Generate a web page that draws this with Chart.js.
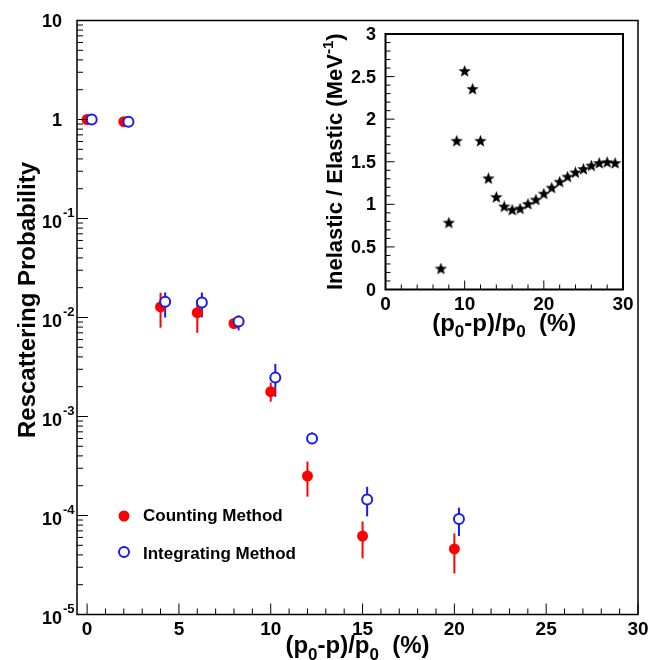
<!DOCTYPE html>
<html>
<head>
<meta charset="utf-8">
<script src="https://cdn.jsdelivr.net/npm/chart.js@4.4.1/dist/chart.umd.min.js"></script>
<style>
html, body { margin: 0; padding: 0; background: #fff; }
#wrap { position: relative; width: 649px; height: 660px; }
#mainChart { position: absolute; left: 0; top: 0; }
#insetChart { position: absolute; left: 310px; top: 22px; }
</style>
</head>
<body>
<div id="wrap">
    <canvas id="mainChart" width="649" height="660"></canvas>
    <canvas id="insetChart" width="326" height="318"></canvas>
</div>
<script>
// ========== 数据 ==========
// Counting Method (红色实心点)
const countX  = [0, 2, 4, 6, 8, 10, 12, 15, 20];
const countY  = [1.0, 0.95, 0.0128, 0.0112, 0.0087, 0.00178, 2.5e-4, 6.2e-5, 4.6e-5];
const countLo = [null, null, 0.0079, 0.0070, 0.0080, 0.00141, 1.55e-4, 3.7e-5, 2.6e-5];
const countHi = [null, null, 0.0178, 0.0150, 0.0095, 0.0022, 3.5e-4, 8.7e-5, 6.6e-5];

// Integrating Method (蓝色空心圈)
const integX  = [0.25, 2.25, 4.25, 6.25, 8.25, 10.25, 12.25, 15.25, 20.25];
const integY  = [1.0, 0.95, 0.0144, 0.0142, 0.0091, 0.00247, 6.0e-4, 1.45e-4, 9.2e-5];
const integLo = [null, null, 0.0100, 0.0100, 0.0074, 0.00158, 5.5e-4, 9.8e-5, 6.2e-5];
const integHi = [null, null, 0.0179, 0.0179, 0.0105, 0.0034, 6.9e-4, 1.95e-4, 1.2e-4];

// 插图: Inelastic / Elastic
const ratioX = [7, 8, 9, 10, 11, 12, 13, 14, 15, 16, 17, 18, 19, 20, 21, 22, 23, 24, 25, 26, 27, 28, 29];
const ratioY = [0.24, 0.78, 1.74, 2.56, 2.35, 1.74, 1.30, 1.08, 0.97, 0.93, 0.945, 1.0, 1.05,
                1.12, 1.19, 1.26, 1.32, 1.37, 1.41, 1.45, 1.48, 1.49, 1.48];

// 刻度
const mainXTicks  = [0, 5, 10, 15, 20, 25, 30];
const mainYExps   = [1, 0, -1, -2, -3, -4, -5];
const insetXTicks = [0, 10, 20, 30];
const insetYTicks = [0, 0.5, 1, 1.5, 2, 2.5, 3];

const FONT = '"Liberation Sans", Arial, Helvetica, sans-serif';
const RED = '#ff0000';
const BLUE = '#1a1aee';

function setFont(ctx, size) {
    ctx.font = 'bold ' + size + 'px ' + FONT;
}

// 带上下标的文字: parts = [[text, 'sub'|'sup'|null], ...]
function richText(ctx, parts, x, y, size, align) {
    let total = 0;
    const widths = parts.map(p => {
        setFont(ctx, p[1] ? Math.round(size * 0.7) : size);
        const w = ctx.measureText(p[0]).width;
        total += w;
        return w;
    });
    let cx = align === 'center' ? x - total / 2 : (align === 'right' ? x - total : x);
    ctx.textAlign = 'left';
    ctx.textBaseline = 'alphabetic';
    parts.forEach((p, i) => {
        setFont(ctx, p[1] ? Math.round(size * 0.7) : size);
        let dy = 0;
        if (p[1] === 'sub') dy = size * 0.28;
        if (p[1] === 'sup') dy = -size * 0.42;
        ctx.fillText(p[0], cx, y + dy);
        cx += widths[i];
    });
}

// ========== 误差棒 ==========
const errorBarPlugin = {
    id: 'errorBars',
    beforeDatasetsDraw(chart) {
        const ctx = chart.ctx;
        const xs = chart.scales.x, ys = chart.scales.y;
        const sets = [[countX, countLo, countHi, RED], [integX, integLo, integHi, BLUE]];
        ctx.save();
        ctx.lineWidth = 2;
        sets.forEach(s => {
            ctx.strokeStyle = s[3];
            s[0].forEach((xv, i) => {
                if (s[1][i] == null) return;
                const px = xs.getPixelForValue(xv);
                ctx.beginPath();
                ctx.moveTo(px, ys.getPixelForValue(s[1][i]));
                ctx.lineTo(px, ys.getPixelForValue(s[2][i]));
                ctx.stroke();
            });
        });
        ctx.restore();
    }
};

// ========== 主图坐标轴 ==========
const mainAxesPlugin = {
    id: 'mainAxes',
    afterDraw(chart) {
        const ctx = chart.ctx;
        const a = chart.chartArea;
        const xs = chart.scales.x, ys = chart.scales.y;
        ctx.save();
        ctx.strokeStyle = '#000';
        ctx.fillStyle = '#000';
        ctx.lineWidth = 1.5;
        ctx.strokeRect(a.left, a.top, a.right - a.left, a.bottom - a.top);

        // y 对数刻度 (向内)
        ctx.lineWidth = 1;
        ctx.beginPath();
        for (let e = -5; e <= 1; e++) {
            const py = ys.getPixelForValue(Math.pow(10, e));
            ctx.moveTo(a.left, py); ctx.lineTo(a.left + 11, py);
            if (e === 1) break;
            for (let k = 2; k <= 9; k++) {
                const my = ys.getPixelForValue(k * Math.pow(10, e));
                ctx.moveTo(a.left, my); ctx.lineTo(a.left + 6, my);
            }
        }
        // x 刻度
        for (let v = 0; v <= 30; v++) {
            const px = xs.getPixelForValue(v);
            const len = v % 5 === 0 ? 11 : 6;
            ctx.moveTo(px, a.bottom); ctx.lineTo(px, a.bottom - len);
        }
        ctx.stroke();

        // y 刻度标签
        mainYExps.forEach(e => {
            const py = ys.getPixelForValue(Math.pow(10, e));
            setFont(ctx, 18);
            ctx.textBaseline = 'alphabetic';
            ctx.textAlign = 'right';
            if (e === 1 || e === 0) {
                ctx.fillText(e === 1 ? '10' : '1', 62, py + 6);
            } else {
                ctx.fillText('10', 62, py + 9);
                setFont(ctx, 13);
                ctx.textAlign = 'left';
                ctx.fillText(String(e), 63, py - 2);
            }
        });

        // x 刻度标签
        setFont(ctx, 19);
        ctx.textAlign = 'center';
        ctx.textBaseline = 'alphabetic';
        mainXTicks.forEach(v => {
            ctx.fillText(String(v), xs.getPixelForValue(v), a.bottom + 20);
        });

        // 轴标题
        richText(ctx, [['(p', null], ['0', 'sub'], ['-p)/p', null], ['0', 'sub'], ['  (%)', null]],
                 (a.left + a.right) / 2, 653, 24, 'center');
        ctx.save();
        ctx.translate(35, 300);
        ctx.rotate(-Math.PI / 2);
        richText(ctx, [['Rescattering Probability', null]], 0, 0, 24, 'center');
        ctx.restore();

        // 图例
        ctx.fillStyle = RED;
        ctx.beginPath(); ctx.arc(124, 516, 5.5, 0, Math.PI * 2); ctx.fill();
        ctx.strokeStyle = BLUE; ctx.lineWidth = 2;
        ctx.beginPath(); ctx.arc(124, 552, 5, 0, Math.PI * 2); ctx.stroke();
        ctx.fillStyle = '#000';
        setFont(ctx, 17);
        ctx.textAlign = 'left';
        ctx.textBaseline = 'middle';
        ctx.fillText('Counting Method', 143, 516);
        ctx.fillText('Integrating Method', 143, 554);
        ctx.restore();
    }
};

// ========== 插图坐标轴 ==========
const insetAxesPlugin = {
    id: 'insetAxes',
    afterDraw(chart) {
        const ctx = chart.ctx;
        const a = chart.chartArea;
        const xs = chart.scales.x, ys = chart.scales.y;
        ctx.save();
        ctx.strokeStyle = '#000';
        ctx.fillStyle = '#000';
        ctx.lineWidth = 2;
        ctx.strokeRect(a.left, a.top, a.right - a.left, a.bottom - a.top);

        ctx.lineWidth = 1;
        ctx.beginPath();
        for (let i = 0; i <= 30; i++) {
            const v = i / 10;
            const py = ys.getPixelForValue(v);
            const len = i % 5 === 0 ? 9 : 5;
            ctx.moveTo(a.left, py); ctx.lineTo(a.left + len, py);
        }
        for (let v = 0; v <= 30; v += 2) {
            const px = xs.getPixelForValue(v);
            const len = v % 10 === 0 ? 9 : 5;
            ctx.moveTo(px, a.bottom); ctx.lineTo(px, a.bottom - len);
        }
        ctx.stroke();

        setFont(ctx, 18);
        ctx.textAlign = 'right';
        ctx.textBaseline = 'alphabetic';
        insetYTicks.forEach(v => {
            ctx.fillText(String(v), 66, ys.getPixelForValue(v) + 6);
        });
        setFont(ctx, 19);
        ctx.textAlign = 'center';
        insetXTicks.forEach(v => {
            ctx.fillText(String(v), xs.getPixelForValue(v), a.bottom + 20);
        });

        richText(ctx, [['(p', null], ['0', 'sub'], ['-p)/p', null], ['0', 'sub'], ['  (%)', null]],
                 (a.left + a.right) / 2, a.bottom + 41, 24, 'center');
        ctx.save();
        ctx.translate(32, (a.top + a.bottom) / 2);
        ctx.rotate(-Math.PI / 2);
        richText(ctx, [['Inelastic / Elastic (MeV', null], ['-1', 'sup'], [')', null]], 0, 0, 22, 'center');
        ctx.restore();
        ctx.restore();
    }
};

// 五角星点样式
function makeStar(size) {
    const c = document.createElement('canvas');
    c.width = size; c.height = size;
    const g = c.getContext('2d');
    const cx = size / 2, cy = size / 2, ro = size / 2, ri = ro * 0.42;
    g.fillStyle = '#000';
    g.beginPath();
    for (let i = 0; i < 10; i++) {
        const r = i % 2 === 0 ? ro : ri;
        const ang = -Math.PI / 2 + i * Math.PI / 5;
        const px = cx + r * Math.cos(ang), py = cy + r * Math.sin(ang);
        if (i === 0) g.moveTo(px, py); else g.lineTo(px, py);
    }
    g.closePath();
    g.fill();
    return c;
}

function initMainChart() {
    const ctx = document.getElementById('mainChart').getContext('2d');
    new Chart(ctx, {
        type: 'scatter',
        data: {
            datasets: [
                {
                    label: 'Counting Method',
                    data: countX.map((x, i) => ({ x: x, y: countY[i] })),
                    backgroundColor: RED,
                    borderWidth: 0,
                    pointRadius: 5.5,
                    order: 2
                },
                {
                    label: 'Integrating Method',
                    data: integX.map((x, i) => ({ x: x, y: integY[i] })),
                    backgroundColor: '#fff',
                    borderColor: BLUE,
                    borderWidth: 2,
                    pointRadius: 5,
                    order: 1
                }
            ]
        },
        options: {
            responsive: false,
            animation: false,
            events: [],
            layout: { padding: { left: 77, top: 20.5, right: 11, bottom: 45.5 } },
            scales: {
                x: { type: 'linear', display: false, min: -0.55, max: 30 },
                y: { type: 'logarithmic', display: false, min: 1e-5, max: 10 }
            },
            plugins: { legend: { display: false }, tooltip: { enabled: false } }
        },
        plugins: [errorBarPlugin, mainAxesPlugin]
    });
}

function initInsetChart() {
    const ctx = document.getElementById('insetChart').getContext('2d');
    new Chart(ctx, {
        type: 'scatter',
        data: {
            datasets: [{
                label: 'ratio',
                data: ratioX.map((x, i) => ({ x: x, y: ratioY[i] })),
                pointStyle: makeStar(13),
                pointRadius: 6.5
            }]
        },
        options: {
            responsive: false,
            animation: false,
            events: [],
            layout: { padding: { left: 75.5, top: 12, right: 13, bottom: 50.5 } },
            scales: {
                x: { type: 'linear', display: false, min: 0, max: 30 },
                y: { type: 'linear', display: false, min: 0, max: 3 }
            },
            plugins: { legend: { display: false }, tooltip: { enabled: false } }
        },
        plugins: [insetAxesPlugin]
    });
}

initMainChart();
initInsetChart();
</script>
</body>
</html>
